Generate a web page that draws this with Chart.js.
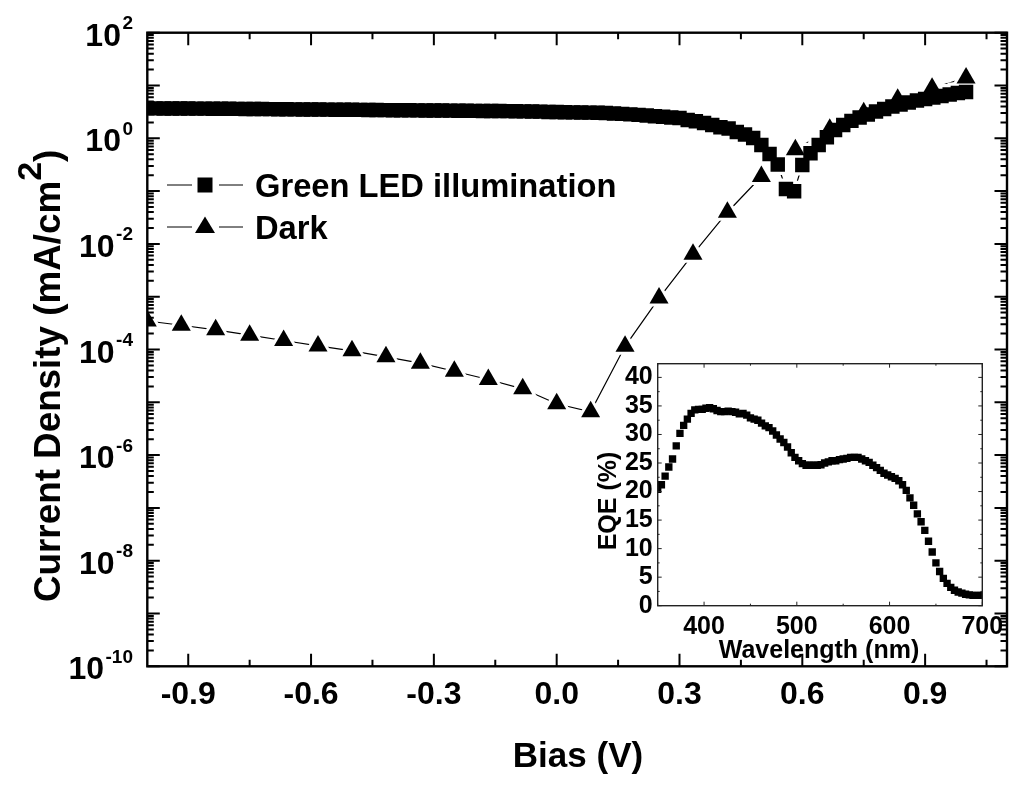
<!DOCTYPE html>
<html>
<head>
<meta charset="utf-8">
<title>Current density and EQE</title>
<script src="https://cdn.jsdelivr.net/npm/chart.js@4"></script>
<style>
  html, body { margin: 0; padding: 0; background: #fff; }
  #wrap { position: relative; width: 1024px; height: 789px; overflow: hidden; }
  canvas { position: absolute; display: block; }
</style>
</head>
<body>
<div id="wrap">
  <canvas id="mainChart" width="1024" height="789" style="left:0;top:0"></canvas>
  <canvas id="insetChart" width="464" height="340" style="left:560px;top:340px"></canvas>
</div>
<script>
// main panel: bias sweep
const illumBias = [
  -1.00, -0.98, -0.96, -0.94, -0.92, -0.90, -0.88, -0.86, -0.84, -0.82,
  -0.80, -0.78, -0.76, -0.74, -0.72, -0.70, -0.68, -0.66, -0.64, -0.62,
  -0.60, -0.58, -0.56, -0.54, -0.52, -0.50, -0.48, -0.46, -0.44, -0.42,
  -0.40, -0.38, -0.36, -0.34, -0.32, -0.30, -0.28, -0.26, -0.24, -0.22,
  -0.20, -0.18, -0.16, -0.14, -0.12, -0.10, -0.08, -0.06, -0.04, -0.02,
  0.00, 0.02, 0.04, 0.06, 0.08, 0.10, 0.12, 0.14, 0.16, 0.18,
  0.20, 0.22, 0.24, 0.26, 0.28, 0.30, 0.32, 0.34, 0.36, 0.38,
  0.40, 0.42, 0.44, 0.46, 0.48, 0.50, 0.52, 0.54, 0.56, 0.58,
  0.60, 0.62, 0.64, 0.66, 0.68, 0.70, 0.72, 0.74, 0.76, 0.78,
  0.80, 0.82, 0.84, 0.86, 0.88, 0.90, 0.92, 0.94, 0.96, 0.98, 1.00
];
const illumDensity = [
  3.70, 3.69, 3.68, 3.68, 3.67, 3.66, 3.65, 3.65, 3.64, 3.63,
  3.62, 3.61, 3.60, 3.59, 3.58, 3.57, 3.56, 3.55, 3.53, 3.52,
  3.51, 3.50, 3.49, 3.48, 3.47, 3.46, 3.45, 3.44, 3.43, 3.42,
  3.41, 3.40, 3.39, 3.38, 3.37, 3.36, 3.35, 3.34, 3.33, 3.32,
  3.31, 3.30, 3.29, 3.28, 3.27, 3.26, 3.24, 3.22, 3.20, 3.16,
  3.14, 3.12, 3.10, 3.08, 3.06, 3.04, 3.01, 2.96, 2.90, 2.84,
  2.78, 2.70, 2.62, 2.55, 2.48, 2.42, 2.22, 2.10, 1.95, 1.78,
  1.62, 1.53, 1.32, 1.18, 1.01, 0.746, 0.505, 0.319, 0.110, 0.099,
  0.312, 0.52, 0.746, 1.045, 1.44, 1.79, 2.14, 2.47, 2.82, 3.22,
  3.59, 4.00, 4.37, 4.76, 5.20, 5.55, 5.93, 6.32, 6.76, 7.21, 7.53
];
const darkBias = [
  -1.000, -0.917, -0.833, -0.750, -0.667, -0.583, -0.500, -0.417, -0.333, -0.250,
  -0.167, -0.083, 0.000, 0.083, 0.167, 0.250, 0.333, 0.417, 0.500, 0.583,
  0.667, 0.750, 0.833, 0.917, 1.000
];
const darkDensity = [
  3.47e-4, 2.88e-4, 2.36e-4, 1.87e-4, 1.48e-4, 1.17e-4, 9.44e-5, 7.27e-5, 5.5e-5, 3.88e-5,
  2.70e-5, 1.80e-5, 9.4e-6, 6.6e-6, 1.15e-4, 9.4e-4, 6.4e-3, 0.0398, 0.189, 0.605,
  1.48, 3.05, 5.48, 8.85, 13.9
];
const biasTicks = [-0.9, -0.6, -0.3, 0.0, 0.3, 0.6, 0.9];
const biasMinorTicks = [-0.75, -0.45, -0.15, 0.15, 0.45, 0.75, 1.05];
const densityLabelExps = [2, 0, -2, -4, -6, -8, -10];
const seriesNames = ["Green LED illumination", "Dark"];

// inset: EQE spectrum
const wavelengths = [
  350, 354, 358, 362, 366, 370, 374, 378, 382, 386, 390, 394, 398, 402, 406, 410, 414, 418, 422, 426,
  430, 434, 438, 442, 446, 450, 454, 458, 462, 466, 470, 474, 478, 482, 486, 490, 494, 498, 502, 506,
  510, 514, 518, 522, 526, 530, 534, 538, 542, 546, 550, 554, 558, 562, 566, 570, 574, 578, 582, 586,
  590, 594, 598, 602, 606, 610, 614, 618, 622, 626, 630, 634, 638, 642, 646, 650, 654, 658, 662, 666,
  670, 674, 678, 682, 686, 690, 694, 698
];
const eqeValues = [
  20.4, 21.2, 22.7, 24.3, 25.7, 28.0, 30.2, 31.6, 32.7, 33.7, 34.3, 34.4, 34.4, 34.6, 34.7, 34.5, 34.2, 34.0, 34.0, 34.1,
  34.0, 33.9, 33.6, 33.7, 33.4, 32.9, 32.7, 32.5, 32.0, 31.5, 31.2, 30.6, 29.9, 29.2, 28.6, 27.8, 26.8, 26.0, 25.4, 24.9,
  24.6, 24.6, 24.6, 24.6, 24.7, 25.0, 25.2, 25.4, 25.4, 25.6, 25.7, 25.8, 26.0, 26.0, 26.0, 25.7, 25.4, 25.1, 24.6, 24.2,
  23.7, 23.2, 22.9, 22.6, 22.3, 21.9, 21.2, 20.2, 18.9, 17.6, 16.1, 14.7, 13.2, 11.3, 9.4, 7.5, 6.0, 4.8, 3.9, 3.2,
  2.7, 2.4, 2.2, 2.0, 1.9, 1.8, 1.8, 1.8
];
const wavelengthTicks = [400, 500, 600, 700];
const wavelengthMinorTicks = [350, 450, 550, 650];
const eqeTicks = [0, 5, 10, 15, 20, 25, 30, 35, 40];
const eqeMinorTicks = [2.5, 7.5, 12.5, 17.5, 22.5, 27.5, 32.5, 37.5];

const FONT = '"Liberation Sans", Arial, sans-serif';
Chart.defaults.font.family = FONT;
Chart.defaults.font.weight = 'bold';
Chart.defaults.color = '#000';

function toPoints(xs, ys) {
  return xs.map((x, i) => ({ x: x, y: ys[i] }));
}

// fixed axis box, so that padding + box give the exact plot area
function fixedBox(size) {
  return scale => {
    if (scale.isHorizontal()) scale.height = size;
    else scale.width = size;
    scale.paddingLeft = scale.paddingRight = scale.paddingTop = scale.paddingBottom = 0;
  };
}

function putText(ctx, str, x, y, size, align) {
  ctx.font = 'bold ' + size + 'px ' + FONT;
  ctx.textAlign = align || 'left';
  ctx.textBaseline = 'alphabetic';
  ctx.fillText(str, x, y);
}

// frame with inward ticks on all four sides
function drawFrame(chart, o) {
  const ctx = chart.ctx;
  const a = chart.chartArea;
  const sx = chart.scales.x, sy = chart.scales.y;
  ctx.save();
  ctx.strokeStyle = o.color;
  ctx.lineWidth = o.tickWidth;
  ctx.beginPath();
  const vTick = (v, len) => {
    const p = sx.getPixelForValue(v);
    ctx.moveTo(p, a.bottom); ctx.lineTo(p, a.bottom - len);
    ctx.moveTo(p, a.top); ctx.lineTo(p, a.top + len);
  };
  const hTick = (v, len) => {
    const p = sy.getPixelForValue(v);
    ctx.moveTo(a.left, p); ctx.lineTo(a.left + len, p);
    ctx.moveTo(a.right, p); ctx.lineTo(a.right - len, p);
  };
  o.xMajor.forEach(v => vTick(v, o.major));
  o.xMinor.forEach(v => vTick(v, o.minor));
  o.yMajor.forEach(v => hTick(v, o.major));
  o.yMinor.forEach(v => hTick(v, o.minor));
  ctx.stroke();
  ctx.lineWidth = o.frameWidth;
  ctx.strokeRect(a.left, a.top, a.right - a.left, a.bottom - a.top);
  ctx.restore();
}

// decade and log minor tick places
const decadeTicks = [], logMinorTicks = [];
for (let d = -10; d <= 2; d++) {
  decadeTicks.push(Math.pow(10, d));
  if (d < 2) {
    for (let m = 2; m <= 9; m++) logMinorTicks.push(m * Math.pow(10, d));
  }
}

const mainDecor = {
  id: 'mainDecor',
  afterDraw(chart) {
    const ctx = chart.ctx;
    drawFrame(chart, {
      color: '#000', tickWidth: 2, frameWidth: 2.4, major: 12.5, minor: 6.5,
      xMajor: biasTicks, xMinor: biasMinorTicks, yMajor: decadeTicks, yMinor: logMinorTicks
    });
    ctx.save();
    ctx.fillStyle = '#000';

    // y tick labels with exponents
    densityLabelExps.forEach(e => {
      const p = chart.scales.y.getPixelForValue(Math.pow(10, e));
      putText(ctx, String(e), 133, p - 3.5, 19, 'right');
      const w = ctx.measureText(String(e)).width;
      putText(ctx, '10', 133 - w - 1.5, p + 13, 32, 'right');
    });

    putText(ctx, 'Bias (V)', 578, 767, 35, 'center');

    // y title, the square sits higher than the rest
    ctx.save();
    ctx.translate(60, 602);
    ctx.rotate(-Math.PI / 2);
    putText(ctx, 'Current Density (mA/cm', 0, 0, 36.8);
    let w = ctx.measureText('Current Density (mA/cm').width;
    putText(ctx, '2', w, -19, 34);
    w += ctx.measureText('2').width;
    putText(ctx, ')', w, 0, 36.8);
    ctx.restore();

    // legend
    ctx.strokeStyle = '#000';
    ctx.lineWidth = 1;
    [185, 227].forEach(y => {
      ctx.beginPath();
      ctx.moveTo(167, y); ctx.lineTo(192, y);
      ctx.moveTo(219, y); ctx.lineTo(243, y);
      ctx.stroke();
    });
    ctx.fillRect(197.5, 177.5, 15, 15);
    ctx.beginPath();
    ctx.moveTo(205, 216.5); ctx.lineTo(215, 233); ctx.lineTo(195, 233);
    ctx.closePath();
    ctx.fill();
    putText(ctx, seriesNames[0], 255, 197, 32.7);
    putText(ctx, seriesNames[1], 255, 238.5, 32.7);
    ctx.restore();
  }
};

const insetDecor = {
  id: 'insetDecor',
  afterDraw(chart) {
    const ctx = chart.ctx;
    drawFrame(chart, {
      color: '#222', tickWidth: 1, frameWidth: 1.4, major: 4, minor: 2,
      xMajor: wavelengthTicks, xMinor: wavelengthMinorTicks, yMajor: eqeTicks, yMinor: eqeMinorTicks
    });
    ctx.save();
    ctx.fillStyle = '#000';
    putText(ctx, 'Wavelength (nm)', 819 - 560, 658 - 340, 25, 'center');
    ctx.translate(616 - 560, 501 - 340);
    ctx.rotate(-Math.PI / 2);
    putText(ctx, 'EQE (%)', 0, 0, 25, 'center');
    ctx.restore();
  }
};

const baseMarker = { showLine: false, pointBorderWidth: 0, pointHoverRadius: 0 };

new Chart(document.getElementById('mainChart').getContext('2d'), {
  type: 'scatter',
  data: {
    datasets: [
      // white under-markers leave the small gap between line and marker
      { ...baseMarker, label: 'dark line', data: toPoints(darkBias, darkDensity), showLine: true,
        borderColor: '#000', borderWidth: 1.2, pointStyle: 'triangle', pointRadius: 17,
        pointBackgroundColor: '#fff', order: 4 },
      { ...baseMarker, label: 'illum line', data: toPoints(illumBias, illumDensity), showLine: true,
        borderColor: '#000', borderWidth: 1.2, pointStyle: 'rect', pointRadius: 14.8,
        pointBackgroundColor: '#fff', order: 3 },
      { ...baseMarker, label: seriesNames[0], data: toPoints(illumBias, illumDensity),
        pointStyle: 'rect', pointRadius: 10.2, pointBackgroundColor: '#000', order: 2 },
      { ...baseMarker, label: seriesNames[1], data: toPoints(darkBias, darkDensity),
        pointStyle: 'triangle', pointRadius: 11, pointBackgroundColor: '#000', order: 1 }
    ]
  },
  options: {
    responsive: false,
    animation: false,
    layout: { padding: { left: 147.3, top: 32.7, right: 16, bottom: 72.7 } },
    plugins: { legend: { display: false }, tooltip: { enabled: false } },
    scales: {
      x: {
        type: 'linear', min: -1, max: 1.1,
        grid: { display: false, drawTicks: false }, border: { display: false },
        afterBuildTicks: s => { s.ticks = biasTicks.map(v => ({ value: v })); },
        afterFit: fixedBox(50),
        ticks: {
          autoSkip: false, maxRotation: 0, padding: 10,
          font: { size: 32, weight: 'bold' },
          callback: v => v.toFixed(1)
        }
      },
      y: {
        type: 'logarithmic', min: 1e-10, max: 100,
        grid: { display: false, drawTicks: false }, border: { display: false },
        afterFit: fixedBox(0),
        ticks: { display: false }
      }
    }
  },
  plugins: [mainDecor]
});

new Chart(document.getElementById('insetChart').getContext('2d'), {
  type: 'scatter',
  data: {
    datasets: [
      { ...baseMarker, label: 'EQE', data: toPoints(wavelengths, eqeValues),
        pointStyle: 'rect', pointRadius: 5.2, pointBackgroundColor: '#000' }
    ]
  },
  options: {
    responsive: false,
    animation: false,
    layout: { padding: { left: 57.7, top: 23.7, right: 41.7, bottom: 44.3 } },
    plugins: { legend: { display: false }, tooltip: { enabled: false } },
    scales: {
      x: {
        type: 'linear', min: 350, max: 700,
        grid: { display: false, drawTicks: false }, border: { display: false },
        afterBuildTicks: s => { s.ticks = wavelengthTicks.map(v => ({ value: v })); },
        afterFit: fixedBox(30),
        ticks: { autoSkip: false, maxRotation: 0, padding: 6, font: { size: 25, weight: 'bold' } }
      },
      y: {
        type: 'linear', min: 0, max: 42.4,
        grid: { display: false, drawTicks: false }, border: { display: false },
        afterBuildTicks: s => { s.ticks = eqeTicks.map(v => ({ value: v })); },
        afterFit: fixedBox(40),
        ticks: { autoSkip: false, padding: 5, font: { size: 25, weight: 'bold' } }
      }
    }
  },
  plugins: [insetDecor]
});
</script>
</body>
</html>
